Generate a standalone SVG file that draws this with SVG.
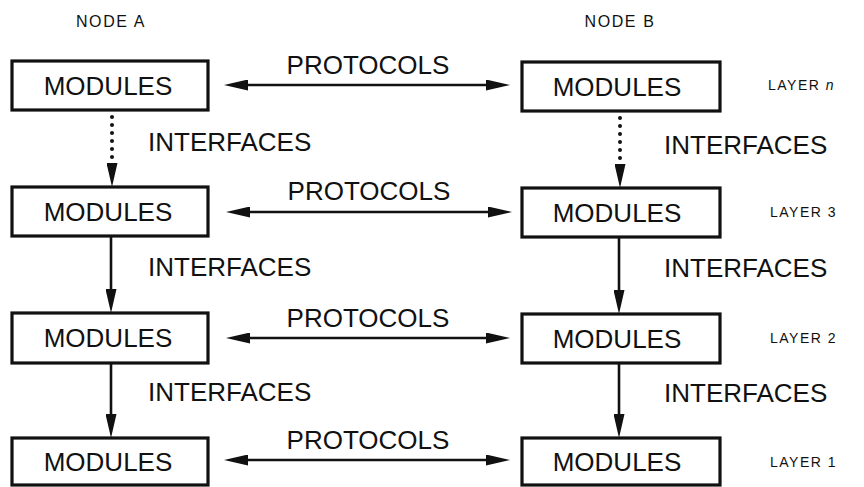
<svg xmlns="http://www.w3.org/2000/svg" width="864" height="487" viewBox="0 0 864 487">
<style>
text{font-family:"Liberation Sans",Arial,sans-serif;fill:#111}
.box{fill:#fff;stroke:#111;stroke-width:3.2}
.mod{font-size:26px;text-anchor:middle}
.proto{font-size:26px;text-anchor:middle}
.intf{font-size:26px}
.small{font-size:14px;letter-spacing:1.5px}
.head{font-size:16px;letter-spacing:1.6px;text-anchor:middle}
.ln{stroke:#111;stroke-width:2.6;fill:none}
.dot{stroke:#111;stroke-width:4;stroke-linecap:round;stroke-dasharray:0 8;fill:none}
</style>
<defs>
<marker id="ah" viewBox="0 0 24 11" refX="10" refY="5.5" markerWidth="24" markerHeight="11" markerUnits="userSpaceOnUse" orient="auto-start-reverse">
<path d="M0,0 L24,5.5 L0,11 z" fill="#111"/>
</marker>
</defs>
<g id="headers">
<text class="head" x="111" y="27">NODE A</text>
<text class="head" x="620" y="27">NODE B</text>
</g>
<g id="a-n"><rect class="box" x="12" y="61" width="196" height="49"/><text class="mod" x="108" y="95">MODULES</text></g>
<g id="a-3"><rect class="box" x="12" y="187" width="196" height="49"/><text class="mod" x="108" y="221">MODULES</text></g>
<g id="a-2"><rect class="box" x="12" y="313" width="196" height="50"/><text class="mod" x="108" y="347">MODULES</text></g>
<g id="a-1"><rect class="box" x="12" y="438" width="196" height="47"/><text class="mod" x="108" y="471">MODULES</text></g>
<g id="b-n"><rect class="box" x="522" y="62" width="198" height="49"/><text class="mod" x="617" y="96">MODULES</text></g>
<g id="b-3"><rect class="box" x="522" y="188" width="198" height="49"/><text class="mod" x="617" y="222">MODULES</text></g>
<g id="b-2"><rect class="box" x="522" y="314" width="198" height="49"/><text class="mod" x="617" y="348">MODULES</text></g>
<g id="b-1"><rect class="box" x="522" y="438" width="198" height="47"/><text class="mod" x="617" y="471">MODULES</text></g>
<g id="connectors">
<line class="ln" x1="238" y1="85" x2="496" y2="85" marker-start="url(#ah)" marker-end="url(#ah)"/>
<line class="ln" x1="240" y1="212" x2="498" y2="212" marker-start="url(#ah)" marker-end="url(#ah)"/>
<line class="ln" x1="240" y1="338" x2="496" y2="338" marker-start="url(#ah)" marker-end="url(#ah)"/>
<line class="ln" x1="238" y1="460" x2="496" y2="460" marker-start="url(#ah)" marker-end="url(#ah)"/>
<line class="dot" x1="112" y1="117" x2="112" y2="173" marker-end="url(#ah)"/>
<line class="dot" x1="620" y1="118" x2="620" y2="174" marker-end="url(#ah)"/>
<line class="ln" x1="111" y1="236" x2="111" y2="299" marker-end="url(#ah)"/>
<line class="ln" x1="111" y1="363" x2="111" y2="424" marker-end="url(#ah)"/>
<line class="ln" x1="619" y1="237" x2="619" y2="300" marker-end="url(#ah)"/>
<line class="ln" x1="619" y1="363" x2="619" y2="424" marker-end="url(#ah)"/>
</g>
<g id="labels">
<text class="proto" x="368" y="74">PROTOCOLS</text>
<text class="proto" x="369" y="200">PROTOCOLS</text>
<text class="proto" x="368" y="327">PROTOCOLS</text>
<text class="proto" x="368" y="449">PROTOCOLS</text>
<text class="intf" x="148" y="151">INTERFACES</text>
<text class="intf" x="148" y="276">INTERFACES</text>
<text class="intf" x="148" y="401">INTERFACES</text>
<text class="intf" x="664" y="154">INTERFACES</text>
<text class="intf" x="664" y="277">INTERFACES</text>
<text class="intf" x="664" y="402">INTERFACES</text>
<text class="small" x="768" y="90">LAYER <tspan font-style="italic">n</tspan></text>
<text class="small" x="770" y="217">LAYER 3</text>
<text class="small" x="770" y="343">LAYER 2</text>
<text class="small" x="770" y="467">LAYER 1</text>
</g>
</svg>
